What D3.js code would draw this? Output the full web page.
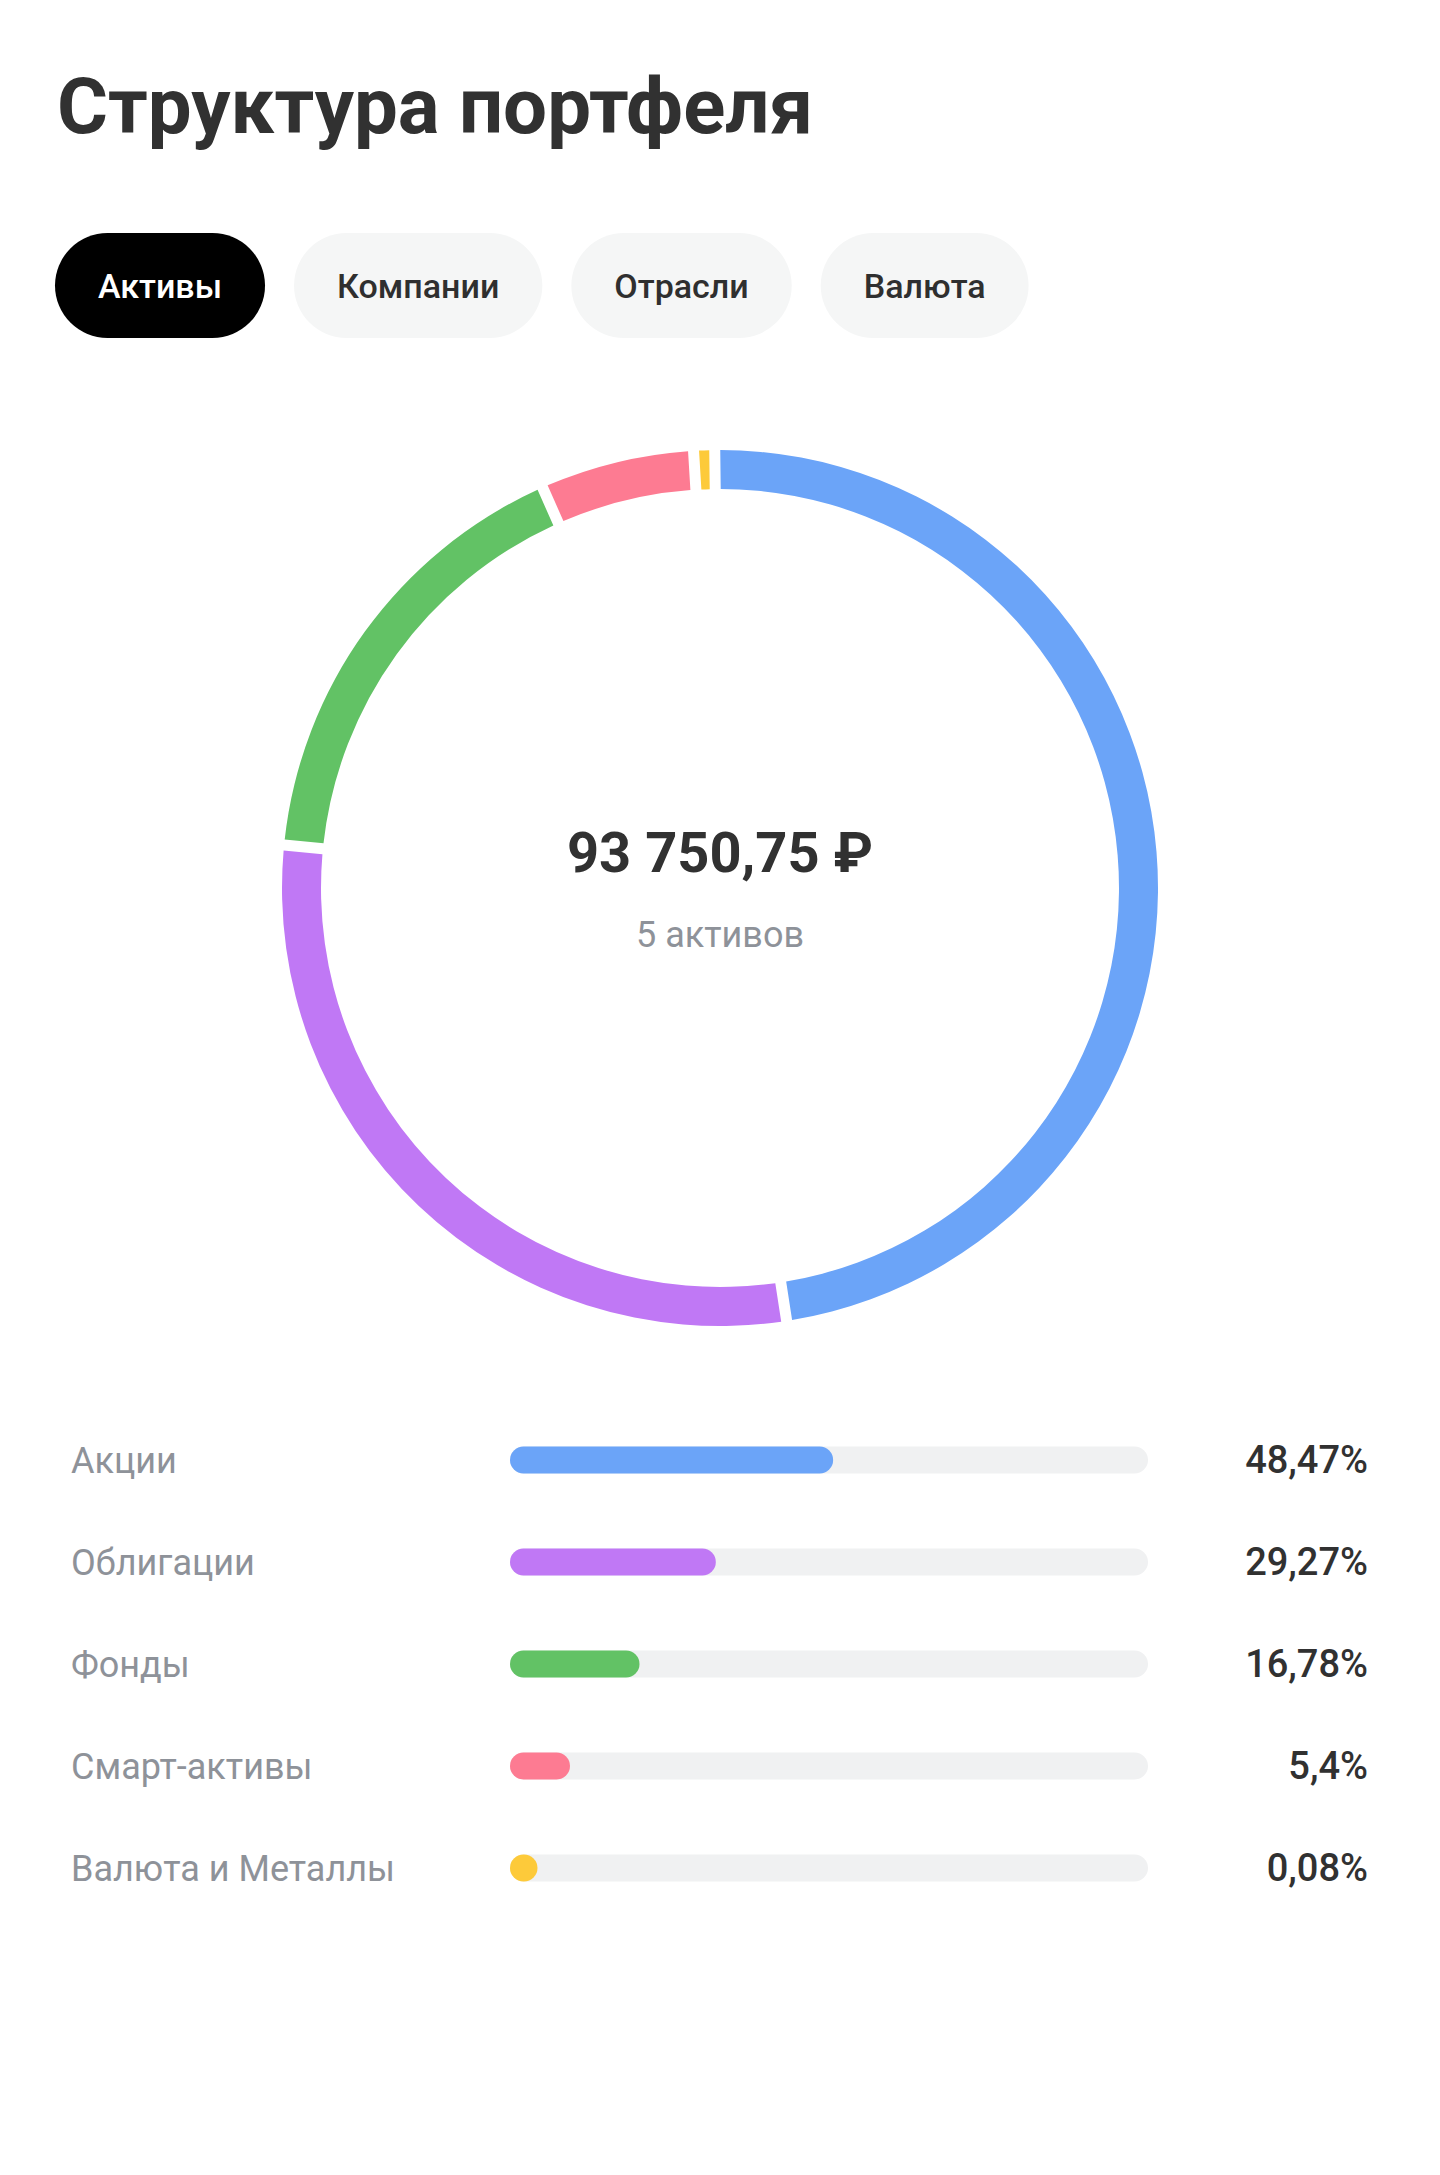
<!DOCTYPE html>
<html>
<head>
<meta charset="utf-8">
<script src="https://cdn.jsdelivr.net/npm/d3@7"></script>
<style>
  html, body { margin: 0; padding: 0; background: #ffffff; }
  svg { display: block; font-family: Roboto, "Noto Sans", sans-serif; }
</style>
</head>
<body>
<svg id="chart" width="1440" height="2175"></svg>
<script>
// ---- data ----
const title = "Структура портфеля";
const tabs = ["Активы", "Компании", "Отрасли", "Валюта"];
const activeTab = "Активы";
const categories = ["Акции", "Облигации", "Фонды", "Смарт-активы", "Валюта и Металлы"];
const shares = [48.47, 29.27, 16.78, 5.4, 0.08];
const shareLabels = ["48,47%", "29,27%", "16,78%", "5,4%", "0,08%"];
const colors = ["#6ba4f8", "#c078f5", "#62c265", "#fd7b92", "#fdca3a"];
const totalLabel = "93 750,75 ₽";
const countLabel = "5 активов";

// ---- drawing ----
const svg = d3.select("#chart");
const W = 1440;

svg.append("rect").attr("width", W).attr("height", 2175).attr("fill", "#fff");

// Title
svg.append("text")
  .attr("x", 57).attr("y", 133)
  .attr("font-size", 78).attr("font-weight", 700)
  .attr("fill", "#313131")
  .text(title);

// Tabs
const tabG = svg.append("g");
let tx = 55;
const tabTop = 233, tabH = 105, tabPad = 43, tabGap = 29;
tabs.forEach(t => {
  const g = tabG.append("g");
  const isActive = t === activeTab;
  const rect = g.append("rect")
    .attr("y", tabTop).attr("height", tabH)
    .attr("rx", tabH / 2).attr("ry", tabH / 2)
    .attr("fill", isActive ? "#000" : "#f5f6f6");
  const label = g.append("text")
    .attr("y", tabTop + tabH / 2 + 12)
    .attr("font-size", 34).attr("font-weight", 500)
    .attr("fill", isActive ? "#fff" : "#2f2f2f")
    .attr("text-anchor", "middle")
    .text(t);
  const tw = label.node().getComputedTextLength();
  const w = tw + tabPad * 2;
  rect.attr("x", tx).attr("width", w);
  label.attr("x", tx + w / 2);
  tx += w + tabGap;
});

// Donut
const cx = 720, cy = 888, rOuter = 438, rInner = 399;
const minDisplayShare = 0.38; // tiny slices drawn with a minimum visible size
const gapPx = 11;
const rot = -0.012;
const pie = d3.pie()
  .sort(null)
  .value(d => Math.max(d.v, minDisplayShare))
  .startAngle(rot).endAngle(2 * Math.PI + rot)
  .padAngle(gapPx / rOuter);
const arc = d3.arc().innerRadius(rInner).outerRadius(rOuter).padRadius(rOuter);
const pieData = categories.map((c, i) => ({ c, v: shares[i], color: colors[i] }));
const donut = svg.append("g").attr("transform", `translate(${cx},${cy})`);
donut.selectAll("path")
  .data(pie(pieData))
  .join("path")
  .attr("d", arc)
  .attr("fill", d => d.data.color);

donut.append("text")
  .attr("y", -16)
  .attr("text-anchor", "middle")
  .attr("font-size", 56).attr("font-weight", 700)
  .attr("fill", "#313131")
  .text(totalLabel);
donut.append("text")
  .attr("y", 59)
  .attr("text-anchor", "middle")
  .attr("font-size", 36).attr("font-weight", 400)
  .attr("fill", "#8e9299")
  .text(countLabel);

// Bars legend
const rowStart = 1460, rowStep = 102;
const trackX = 510, trackW = 638, barH = 27;
const xFill = d3.scaleLinear().domain([0, 100]).range([barH, trackW]);
const y = d3.scalePoint().domain(categories).range([rowStart, rowStart + rowStep * (categories.length - 1)]);

const rows = svg.append("g").selectAll("g")
  .data(pieData)
  .join("g")
  .attr("transform", d => `translate(0,${y(d.c)})`);

rows.append("text")
  .attr("x", 71).attr("y", 13)
  .attr("font-size", 36).attr("font-weight", 400)
  .attr("fill", "#8e9299")
  .text(d => d.c);

rows.append("rect")
  .attr("x", trackX).attr("y", -barH / 2)
  .attr("width", trackW).attr("height", barH)
  .attr("rx", barH / 2).attr("ry", barH / 2)
  .attr("fill", "#f0f1f2");

rows.append("rect")
  .attr("x", trackX).attr("y", -barH / 2)
  .attr("width", d => xFill(d.v)).attr("height", barH)
  .attr("rx", barH / 2).attr("ry", barH / 2)
  .attr("fill", d => d.color);

rows.append("text")
  .attr("x", 1368).attr("y", 13)
  .attr("text-anchor", "end")
  .attr("font-size", 38).attr("font-weight", 500)
  .attr("fill", "#313131")
  .text((d, i) => shareLabels[i]);
</script>
</body>
</html>
